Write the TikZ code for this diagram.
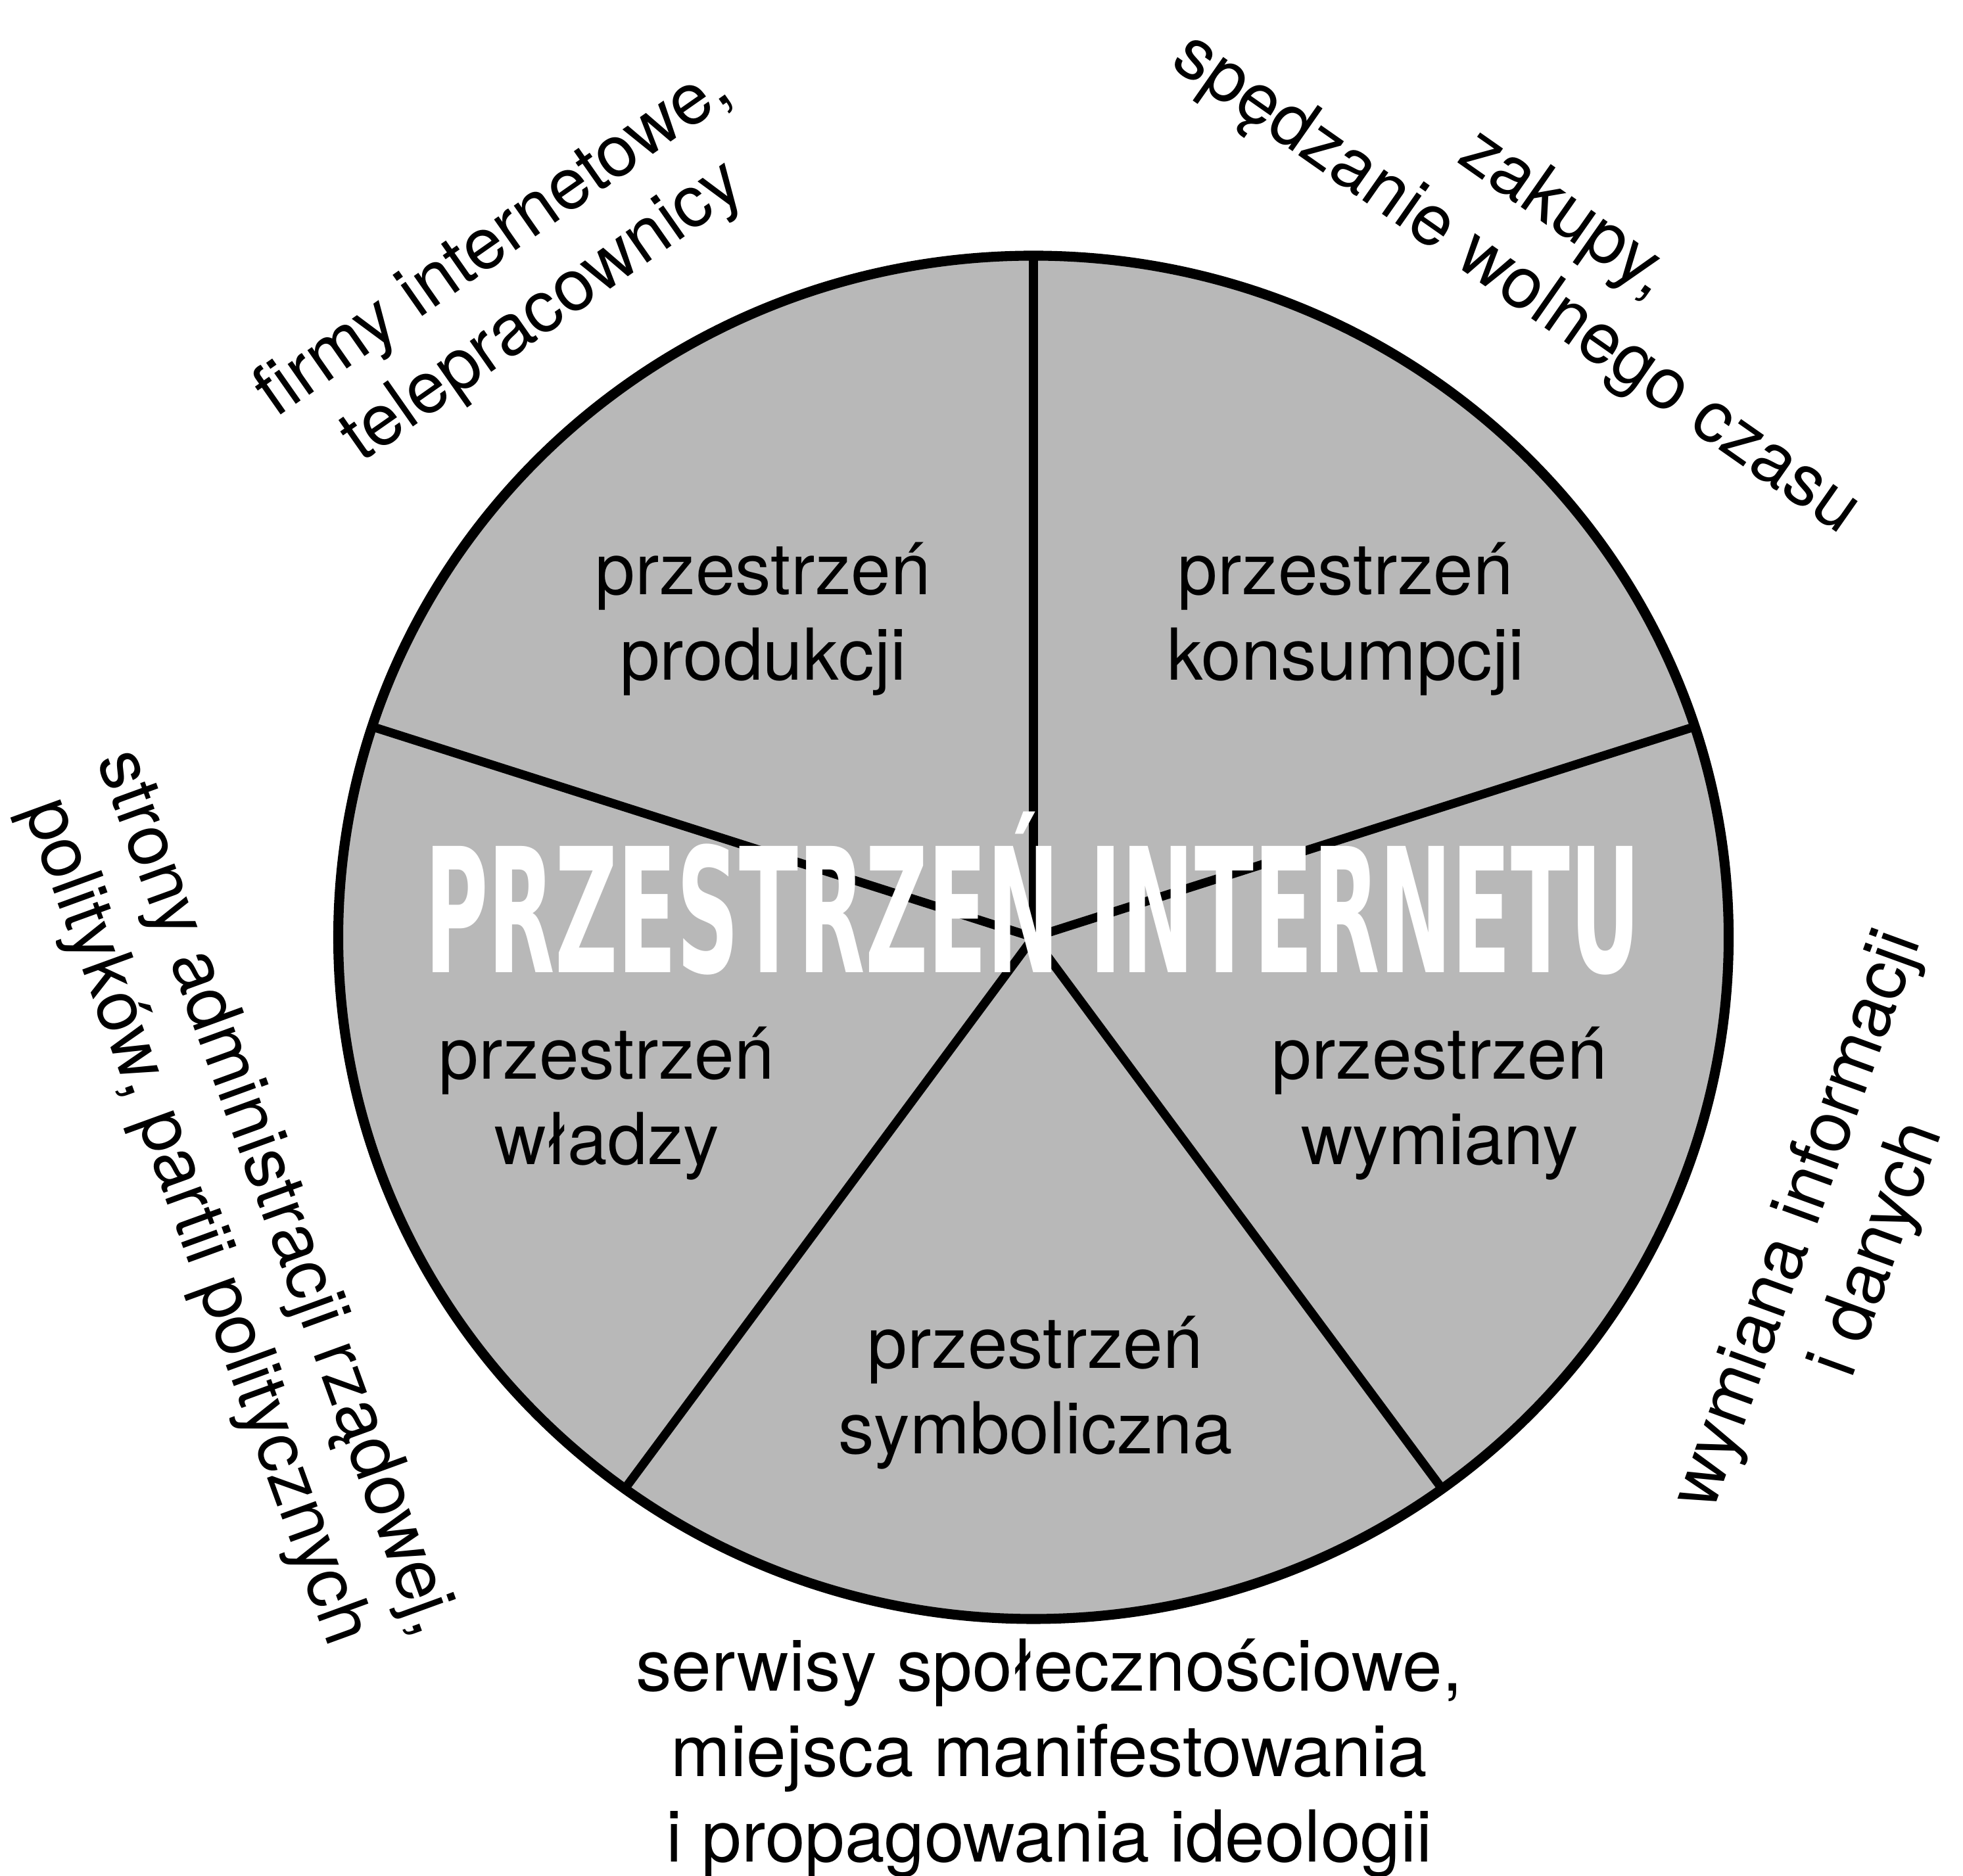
\documentclass[tikz,border=0pt]{standalone}
\usepackage{fontspec}
\setmainfont{TeX Gyre Heros}
\newfontfamily\titlefont{DejaVu Sans}
\begin{document}
\begin{tikzpicture}[
    szprycha/.style={line width=3.8pt, line cap=round},
    obwod/.style={line width=4.3pt},
    napis/.style={font=\fontsize{31}{37}\selectfont, align=center, inner sep=0pt},
    tytul/.style={font=\titlefont\bfseries\fontsize{75}{75}\selectfont, text=white, xscale=0.5, inner sep=0pt, anchor=base}
  ]
  \useasboundingbox (0,0) rectangle (29.86,28.53);
  \coordinate (c) at (15.72,14.27);
  \fill [black!28] (c) ellipse [x radius=10.575, y radius=10.37];
  \foreach \a in {90,18,-54,-126,162}
    \draw [szprycha] (c) -- ++({10.575*cos(\a)},{10.37*sin(\a)});
  \draw [obwod] (c) ellipse [x radius=10.575, y radius=10.37];
  \node [tytul] (naglowek) at (15.71,13.73) {PRZESTRZEŃ INTERNETU};

  \node [napis] (produkcja) at (11.61,19.11) {przestrzeń\\produkcji};
  \node [napis] (konsumpcja) at (20.47,19.11) {przestrzeń\\konsumpcji};
  \node [napis] (wladza) at (9.23,11.74) {przestrzeń\\władzy};
  \node [napis] (wymiana) at (21.90,11.74) {przestrzeń\\wymiany};
  \node [napis] (symbol) at (15.75,7.34) {przestrzeń\\symboliczna};

  \node [napis, rotate=35] (firmy) at (7.90,24.30) {firmy internetowe,\\telepracownicy};
  \node [napis, rotate=-35] (zakupy) at (23.42,24.72) {zakupy,\\spędzanie wolnego czasu};
  \node [napis, rotate=-70] (strony) at (3.56,10.15) {strony administracji rządowej,\\polityków, partii politycznych};
  \node [napis, rotate=70] (dane) at (27.98,9.74) {wymiana informacji\\i danych};
  \node [napis] (serwisy) at (15.96,1.78) {serwisy społecznościowe,\\miejsca manifestowania\\i propagowania ideologii};
\end{tikzpicture}
\end{document}
